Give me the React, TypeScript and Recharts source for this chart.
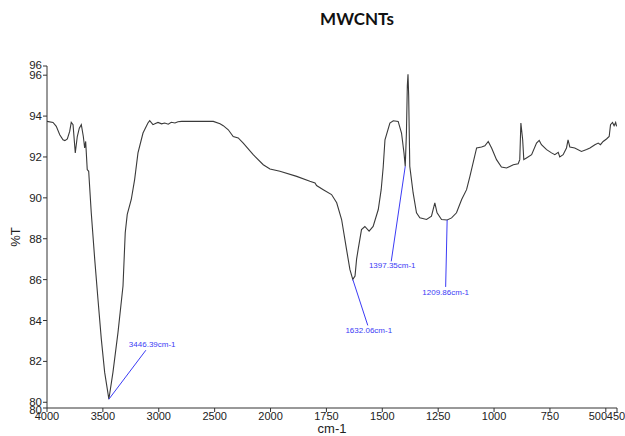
import { LineChart, Line, XAxis, YAxis, ReferenceDot, Label } from "recharts";

// FTIR spectrum, wavenumber (cm-1) vs transmittance (%T)
const wavenumbers = [
  4000, 3946, 3917, 3886, 3857, 3840, 3818, 3797, 3783, 3767, 3747, 3729, 3711, 3693, 3675, 3663,
  3654, 3640, 3627, 3604, 3573, 3544, 3514, 3484, 3446.39, 3410, 3365, 3320, 3300, 3282, 3246,
  3216, 3186, 3141, 3097, 3081, 3052, 3030, 3007, 2975, 2947, 2915, 2888, 2855, 2828, 2795, 2512,
  2452, 2423, 2378, 2334, 2289, 2244, 2155, 2065, 2005, 1958, 1883, 1824, 1801, 1794, 1764, 1727,
  1704, 1682, 1660, 1645, 1632.06, 1622, 1615, 1608, 1593, 1578, 1559, 1541, 1518, 1505, 1496,
  1488, 1466, 1451, 1429, 1414, 1403, 1397.35, 1392, 1388, 1385, 1382, 1377, 1362, 1347, 1332,
  1302, 1280, 1265, 1255, 1235, 1209.86, 1190, 1168, 1145, 1123, 1108, 1078, 1056, 1041, 1026,
  1011, 989, 967, 944, 914, 892, 885, 880, 872, 867, 855, 832, 810, 798, 788, 765, 743, 728, 713,
  706, 691, 676, 669, 661, 639, 609, 586, 571, 549, 534, 524, 512, 497, 485, 479, 470, 463, 456, 452,
];
const transmittance = [
  93.74, 93.69, 93.5, 93.09, 92.84, 92.8, 92.88, 93.25, 93.69, 93.58, 92.2, 93.0, 93.41, 93.58, 93.0, 92.44,
  92.76, 91.38, 91.3, 89.27, 86.99, 85.04, 83.09, 81.46, 80.15, 81.46, 83.41, 85.69, 88.29, 89.19, 89.92,
  90.89, 92.2, 93.17, 93.66, 93.78, 93.58, 93.64, 93.69, 93.62, 93.66, 93.6, 93.7, 93.66, 93.72, 93.74, 93.74,
  93.62, 93.53, 93.33, 93.0, 92.93, 92.68, 92.11, 91.62, 91.41, 91.3, 91.05, 90.81, 90.73, 90.6, 90.4, 90.16,
  89.76, 88.94, 87.48, 86.5, 86.01, 86.18, 87.0, 87.48, 88.45, 88.6, 88.37, 88.6, 89.43, 90.4, 91.5,
  92.84, 93.66, 93.77, 93.74, 93.17, 92.2, 91.54, 93.2, 95.5, 96.05, 95.0, 91.54, 90.24, 89.27, 89.02,
  88.94, 89.1, 89.76, 89.27, 88.94, 88.92, 89.02, 89.27, 89.92, 90.4, 91.05, 92.44, 92.49, 92.55, 92.76,
  92.44, 91.87, 91.51, 91.46, 91.62, 91.67, 91.87, 93.66, 92.84, 91.87, 91.95, 92.11, 92.68, 92.81, 92.6, 92.36, 92.2, 92.11, 92.23,
  92.0, 92.11, 92.44, 92.84, 92.49, 92.44, 92.27, 92.36, 92.44, 92.6, 92.68, 92.6, 92.76, 92.88, 93.0, 93.58, 93.69, 93.53, 93.69, 93.5,
];

const xTickLabels = [4000, 3500, 3000, 2500, 2000, 1750, 1500, 1250, 1000, 750, 500, 450];
const yTickValues = [79.72, 80, 82, 84, 86, 88, 90, 92, 94, 96, 96.45];
const markedBands = [3446.39, 1632.06, 1397.35, 1209.86];

// split axis: 500 cm-1 per division above 2000, 250 cm-1 per division below
const toAxis = (w: number) => (w >= 2000 ? (4000 - w) / 500 : 4 + (2000 - w) / 250);
const fromAxis = (u: number) => (u <= 4 ? 4000 - 500 * u : 2000 - 250 * (u - 4));

const data = wavenumbers.map((w, i) => ({ u: toAxis(w), t: transmittance[i] }));

// leader line end (dx, dy) and text offset from that end, in px
const leaderOffsets = [
  { dx: 37, dy: -49, tx: -17, ty: -3, anchor: "start" },
  { dx: 15, dy: 46, tx: 1, ty: 7.5, anchor: "middle" },
  { dx: -14, dy: 95, tx: 1, ty: 7, anchor: "middle" },
  { dx: -1.5, dy: 67, tx: 0, ty: 8.5, anchor: "middle" },
];

const tickFont = "'Liberation Sans Narrow', 'Arial Narrow', 'Liberation Sans', sans-serif";
const blue = "#3b3bf5";

const XTick = (props: any) => {
  const { x, y, payload } = props;
  const w = Math.round(fromAxis(payload.value));
  const nudge = w === 500 ? -8 : w === 450 ? -1 : 0;
  return (
    <text x={x + nudge} y={y} dy={8} textAnchor="middle" fontSize={11} fontFamily={tickFont} fill="#222">
      {w}
    </text>
  );
};

const YTick = (props: any) => {
  const { x, y, payload, index } = props;
  // the two axis-end labels sit a little further out from their neighbours
  const shift = index === 0 ? 2 : index === yTickValues.length - 1 ? -1 : 0;
  return (
    <text x={x} y={y + shift} dy={4} textAnchor="end" fontSize={11.5} fontFamily={tickFont} fill="#222">
      {Math.round(payload.value)}
    </text>
  );
};

const bandLabel = (band: number, i: number) => {
  const o = leaderOffsets[i];
  return (props: any) => {
    const { cx, cy } = props;
    const ex = cx + o.dx;
    const ey = cy + o.dy;
    return (
      <g>
        <line x1={cx} y1={cy} x2={ex} y2={ey} stroke={blue} strokeWidth={1} />
        <text x={ex + o.tx} y={ey + o.ty} textAnchor={o.anchor} fontSize={8} fontFamily={tickFont} fill={blue}>
          {`${band}cm-1`}
        </text>
      </g>
    );
  };
};

export default function App() {
  return (
    <div style={{ position: "absolute", left: 0, top: 0, width: 625, height: 436, background: "#fff" }}>
      <div
        style={{
          position: "absolute",
          left: 257,
          top: 8,
          width: 200,
          textAlign: "center",
          fontFamily: "Lato, 'Open Sans', sans-serif",
          fontWeight: 700,
          fontSize: 17,
          color: "#111",
        }}
      >
        MWCNTs
      </div>
      <LineChart width={625} height={436} data={data} margin={{ top: 66, right: 8, bottom: 0, left: 0 }}>
        <XAxis
          type="number"
          dataKey="u"
          domain={[0, toAxis(450)]}
          ticks={xTickLabels.map(toAxis)}
          interval={0}
          tick={<XTick />}
          tickSize={4}
          tickMargin={0}
          height={28}
          stroke="#333"
          allowDataOverflow
        >
          <Label value="cm-1" position="insideBottom" offset={3} fontSize={13} fontFamily="'Liberation Sans', Arial, sans-serif" fill="#222" />
        </XAxis>
        <YAxis
          type="number"
          domain={[yTickValues[0], yTickValues[yTickValues.length - 1]]}
          ticks={yTickValues}
          interval={0}
          tick={<YTick />}
          tickSize={4}
          tickMargin={1}
          width={47}
          stroke="#333"
          allowDataOverflow
        >
          <Label
            content={(p: any) => {
              const vb = p.viewBox;
              const x = vb.x + 17;
              const y = vb.y + vb.height / 2;
              return (
                <text x={x} y={y} transform={`rotate(-90 ${x} ${y})`} textAnchor="middle" dominantBaseline="middle" fontSize={13} fontFamily="'Liberation Sans', Arial, sans-serif" fill="#222">
                  %T
                </text>
              );
            }}
          />
        </YAxis>
        <Line
          type="linear"
          dataKey="t"
          stroke="#3a3a3a"
          strokeWidth={1.1}
          dot={false}
          isAnimationActive={false}
        />
        {markedBands.map((band, i) => (
          <ReferenceDot
            key={band}
            x={toAxis(band)}
            y={transmittance[wavenumbers.indexOf(band)]}
            r={0}
            ifOverflow="visible"
            shape={bandLabel(band, i)}
          />
        ))}
      </LineChart>
    </div>
  );
}
